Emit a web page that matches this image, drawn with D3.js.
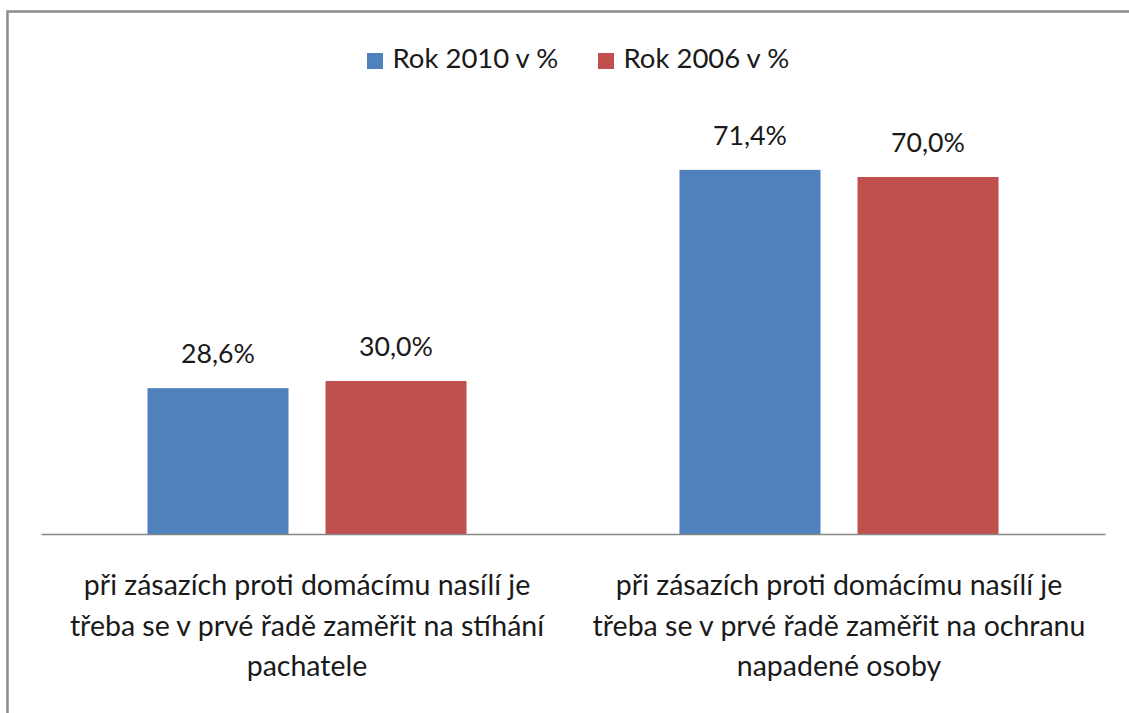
<!DOCTYPE html>
<html>
<head>
<meta charset="utf-8">
<script src="https://cdn.jsdelivr.net/npm/d3@7"></script>
<style>
  body { margin: 0; background: #fff; }
  svg { display: block; font-family: Lato, sans-serif; }
</style>
</head>
<body>
<div id="graf"></div>
<script>
// Datos
const kategorie = [
  ['při zásazích proti domácímu nasílí je', 'třeba se v prvé řadě zaměřit na stíhání', 'pachatele'],
  ['při zásazích proti domácímu nasílí je', 'třeba se v prvé řadě zaměřit na ochranu', 'napadené osoby']
]
const serie = ['Rok 2010 v %', 'Rok 2006 v %']
const rok2010 = [28.6, 71.4]
const rok2006 = [30.0, 70.0]
const barvy = ['#4F81BD', '#C0504D']

const hodnoty = [rok2010, rok2006]

// Configuración
const ancho_total = 1129
const alto_total = 713
const margins = { top: 126, left: 41, right: 24, bottom: 179 }
const ancho = ancho_total - margins.left - margins.right
const alto = alto_total - margins.top - margins.bottom

const svg = d3.select('#graf').append('svg')
  .attr('width', ancho_total)
  .attr('height', alto_total)

// marco del gráfico (sólo se ven arriba e izquierda)
svg.append('rect')
  .attr('x', 7.5).attr('y', 11.5)
  .attr('width', 1200).attr('height', 800)
  .attr('fill', 'none')
  .attr('stroke', '#8c8c8c')
  .attr('stroke-width', 2.5)

const g = svg.append('g')
  .attr('transform', `translate(${margins.left}, ${margins.top})`)

const idx = kategorie.map((d, i) => i)

const x0 = d3.scaleBand()
  .domain(idx)
  .range([0, ancho])
  .padding(0)

const x1 = d3.scaleBand()
  .domain(serie)
  .range([0, x0.bandwidth()])
  .paddingInner(0.208)
  .paddingOuter(0.598)

const y = d3.scaleLinear()
  .domain([0, 80])
  .range([alto, 0])

const fmt = v => d3.format('.1f')(v).replace('.', ',') + '%'

const grupos = g.selectAll('g.grupo')
  .data(idx)
  .join('g')
    .attr('class', 'grupo')
    .attr('transform', i => `translate(${x0(i)}, 0)`)

grupos.selectAll('rect')
  .data(i => serie.map((s, j) => ({ s, j, v: hodnoty[j][i] })))
  .join('rect')
    .attr('x', d => x1(d.s))
    .attr('y', d => y(d.v))
    .attr('width', x1.bandwidth())
    .attr('height', d => alto - y(d.v))
    .attr('fill', d => barvy[d.j])

grupos.selectAll('text.val')
  .data(i => serie.map((s, j) => ({ s, j, v: hodnoty[j][i] })))
  .join('text')
    .attr('class', 'val')
    .attr('x', d => x1(d.s) + x1.bandwidth() / 2)
    .attr('y', d => y(d.v) - 25)
    .attr('text-anchor', 'middle')
    .attr('font-size', '26.7px')
    .attr('fill', '#1a1a1a')
    .text(d => fmt(d.v))

// eje x
const xAxisGroup = g.append('g')
  .attr('transform', `translate(0, ${alto})`)
  .call(d3.axisBottom(x0).tickSize(0).tickFormat(''))
xAxisGroup.select('.domain')
  .attr('stroke', '#868686')
  .attr('stroke-width', 1.5)

grupos.append('text')
  .attr('class', 'kat')
  .attr('x', x0.bandwidth() / 2)
  .attr('y', alto + 61)
  .attr('text-anchor', 'middle')
  .attr('font-size', '28.5px')
  .attr('fill', '#1a1a1a')
  .selectAll('tspan')
  .data(i => kategorie[i])
  .join('tspan')
    .attr('x', x0.bandwidth() / 2)
    .attr('dy', (d, k) => k === 0 ? 0 : 40.5)
    .text(d => d)

// leyenda
const leyenda = svg.append('g')
  .attr('class', 'leyenda')
const posLeyenda = [367, 598]
serie.forEach((s, j) => {
  const it = leyenda.append('g')
    .attr('transform', `translate(${posLeyenda[j]}, 53)`)
  it.append('rect')
    .attr('width', 16).attr('height', 16)
    .attr('fill', barvy[j])
  it.append('text')
    .attr('x', 25.5)
    .attr('y', 15)
    .attr('font-size', '27.5px')
    .attr('fill', '#1a1a1a')
    .text(s)
})
</script>
</body>
</html>
